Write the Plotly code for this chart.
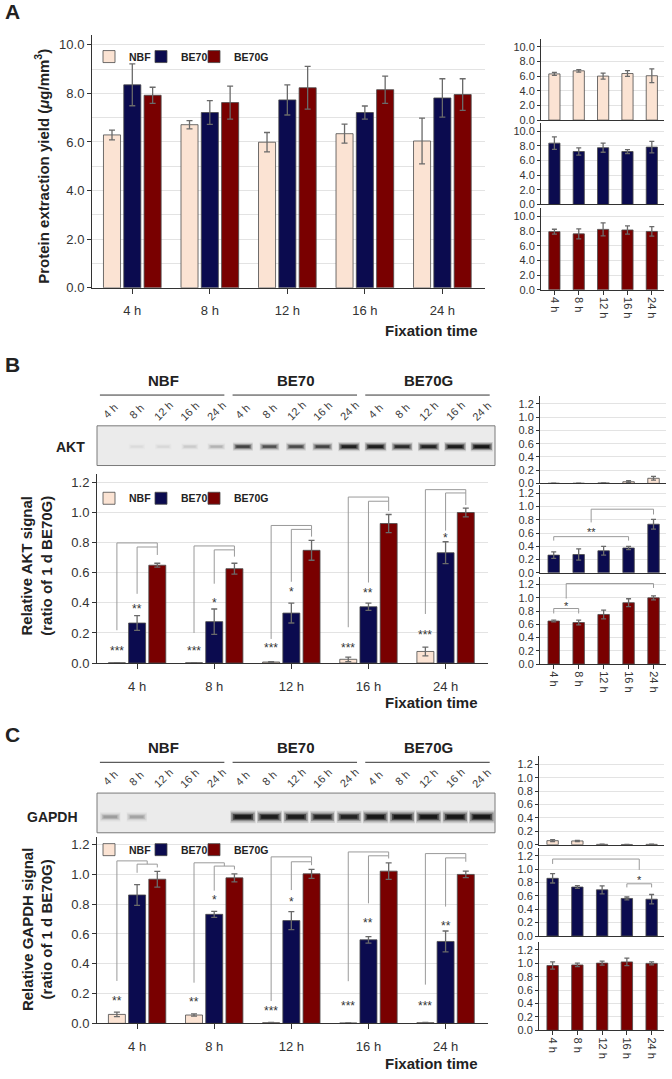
import plotly.graph_objects as go
import numpy as np

W, H = 672, 1079
FONT = "Liberation Sans, Arial, sans-serif"
TXT = "#333333"

# ---------------- data ----------------
categories = ["4 h", "8 h", "12 h", "16 h", "24 h"]
series = ["NBF", "BE70", "BE70G"]
colors = ["#fbe3d3", "#0b0b4f", "#790000"]
lane_labels = categories * 3
group_labels = ["NBF", "BE70", "BE70G"]

# Panel A: protein extraction yield (ug/mm3)
A_NBF = [6.29, 6.71, 5.99, 6.34, 6.04]
A_NBF_err = [0.20, 0.17, 0.40, 0.39, 0.94]
A_BE70 = [8.35, 7.21, 7.73, 7.21, 7.81]
A_BE70_err = [0.86, 0.49, 0.62, 0.27, 0.79]
A_BE70G = [7.92, 7.62, 8.23, 8.15, 7.95]
A_BE70G_err = [0.33, 0.68, 0.88, 0.56, 0.65]

# Panel B: relative AKT signal
B_NBF = [0.002, 0.002, 0.007, 0.025, 0.077]
B_NBF_err = [0.0, 0.0, 0.002, 0.015, 0.029]
B_BE70 = [0.266, 0.275, 0.332, 0.374, 0.733]
B_BE70_err = [0.049, 0.084, 0.066, 0.024, 0.073]
B_BE70G = [0.650, 0.627, 0.749, 0.927, 1.000]
B_BE70G_err = [0.013, 0.036, 0.066, 0.060, 0.029]
AKT_band = [0.0, 0.03, 0.04, 0.08, 0.15, 0.62, 0.55, 0.58, 0.62, 0.90,
            0.92, 0.80, 0.88, 0.95, 1.0]
B_NBF_stars = ["***", "***", "***", "***", "***"]
B_NBF_star_y = [0.10, 0.10, 0.117, 0.117, 0.205]
B_BE70_stars = ["**", "*", "*", "**", "*"]
B_BE70_star_y = [0.376, 0.418, 0.495, 0.484, 0.854]
B_outer_top = [0.798, 0.778, 0.914, 1.103, 1.152]
B_inner_top = [0.771, 0.752, 0.888, 1.075, 1.130]
B_nbf_leg = [0.218, 0.200, 0.160, 0.238, 0.326]
B_be70_leg = [0.460, 0.527, 0.540, 0.535, 0.880]
B_g_leg = [0.718, 0.707, 0.840, 1.010, 1.050]
B_outer_end = ["G", "G", "G", "G", "G"]

# Panel C: relative GAPDH signal
C_NBF = [0.060, 0.056, 0.005, 0.003, 0.005]
C_NBF_err = [0.015, 0.008, 0.002, 0.0, 0.002]
C_BE70 = [0.862, 0.732, 0.690, 0.561, 0.550]
C_BE70_err = [0.070, 0.020, 0.060, 0.022, 0.070]
C_BE70G = [0.968, 0.977, 1.004, 1.022, 1.000]
C_BE70G_err = [0.053, 0.027, 0.030, 0.055, 0.022]
GAPDH_band = [0.22, 0.20, 0.0, 0.0, 0.0, 0.97, 0.93, 0.93, 0.88, 0.88,
              1.0, 1.0, 1.0, 1.0, 1.0]
C_NBF_stars = ["**", "**", "***", "***", "***"]
C_NBF_star_y = [0.171, 0.165, 0.105, 0.138, 0.138]
C_BE70_stars = ["", "*", "*", "**", "**"]
C_BE70_star_y = [0.0, 0.846, 0.835, 0.695, 0.677]
C_outer_top = [1.091, 1.078, 1.118, 1.151, 1.140]
C_inner_top = [1.069, 1.056, 1.085, 1.125, 1.111]
C_nbf_leg = [0.285, 0.273, 0.150, 0.283, 0.260]
C_be70_leg = [1.011, 0.891, 0.895, 0.806, 0.784]
C_g_leg = [1.047, 1.033, 1.062, 1.107, 1.085]
C_outer_end = ["mid", "mid", "G", "G", "G"]

# ---------------- helpers ----------------
def PX(x):
    return x / W


def PY(y):
    return 1 - y / H


layout = {}
traces = []
shapes = []
annotations = []

AX_LINE = "#333333"
GRID = "#e3e3e3"


def ids(n):
    if n == 1:
        return "x", "y", "xaxis", "yaxis"
    return f"x{n}", f"y{n}", f"xaxis{n}", f"yaxis{n}"


def add_axes(n, xpx, ypx, xr, yr, xkw=None, ykw=None):
    xid, yid, xn, yn = ids(n)
    xa = dict(domain=[PX(xpx[0]), PX(xpx[1])], range=xr, anchor=yid,
              showline=True, linecolor=AX_LINE, linewidth=1, ticks="outside",
              ticklen=4, tickcolor=AX_LINE, showgrid=False, zeroline=False,
              tickmode="array", tickvals=list(range(len(categories))),
              ticktext=categories,
              tickfont=dict(size=13, color=TXT, family=FONT), fixedrange=True)
    ya = dict(domain=[PY(ypx[1]), PY(ypx[0])], range=yr, anchor=xid,
              showline=True, linecolor=AX_LINE, linewidth=1, ticks="outside",
              ticklen=4, tickcolor=AX_LINE, showgrid=True, gridcolor=GRID,
              gridwidth=1, zeroline=False, tickformat=".1f",
              tickfont=dict(size=13, color=TXT, family=FONT), fixedrange=True)
    if xkw:
        xa.update(xkw)
    if ykw:
        ya.update(ykw)
    layout[xn] = xa
    layout[yn] = ya
    return xid, yid


OFF = [-0.262, 0.0, 0.262]
BW_MAIN = 0.22
BW_SMALL = 0.46
idx = np.arange(len(categories))
LEGEND_X = [89, 141, 194]      # left edge (px) of each legend entry
legend_counter = [0]


def new_legend(xpx, ypx):
    legend_counter[0] += 1
    k = legend_counter[0]
    name = "legend" if k == 1 else f"legend{k}"
    layout[name] = dict(orientation="h", x=PX(xpx), xanchor="left",
                        y=PY(ypx), yanchor="middle", bgcolor="rgba(0,0,0,0)",
                        itemwidth=30, borderwidth=0,
                        font=dict(size=10.5, color="#222", family=FONT,
                                  weight="bold"))
    return name


def bar(xid, yid, xs, vals, errs, color, name, width, legend=None, ew=3):
    traces.append(go.Bar(
        x=xs, y=vals, width=width, name=name, xaxis=xid, yaxis=yid,
        marker=dict(color=color, line=dict(color="#4a4a4a", width=0.8)),
        error_y=dict(type="data", array=errs, color="#6a6a6a",
                     thickness=1.3, width=ew),
        showlegend=legend is not None, legend=legend or "legend",
        hoverinfo="skip"))


def main_chart(n, xpx, ypx, yr, ykw, data, legend_y):
    xid, yid = add_axes(n, xpx, ypx, [-0.52, 4.55], yr,
                        xkw=dict(ticklen=5, ticklabelstandoff=6), ykw=ykw)
    for k, (vals, errs) in enumerate(data):
        lg = new_legend(LEGEND_X[k], legend_y)
        bar(xid, yid, idx + OFF[k], vals, errs, colors[k], series[k],
            BW_MAIN, legend=lg)
    return xid, yid


def small_charts(n0, xpx, ypx_list, yr, ykw, data, small_font=11):
    out = []
    for k, (vals, errs) in enumerate(data):
        last = k == len(data) - 1
        xkw = dict(showticklabels=last, ticks="outside" if last else "",
                   tickangle=90, tickfont=dict(size=small_font, color=TXT,
                                               family=FONT))
        ykw2 = dict(tickfont=dict(size=small_font, color=TXT, family=FONT),
                    ticklen=3)
        ykw2.update(ykw)
        xid, yid = add_axes(n0 + k, xpx, ypx_list[k], [-0.55, 4.5], yr,
                            xkw=xkw, ykw=ykw2)
        bar(xid, yid, idx, vals, errs, colors[k], series[k], BW_SMALL, ew=2.5)
        out.append((xid, yid))
    return out


BR = dict(color="#9a9a9a", width=1)


def path(xid, yid, d):
    shapes.append(dict(type="path", xref=xid, yref=yid, path=d, line=BR,
                       layer="above"))


def star(xid, yid, x, y, text, size=12):
    if text:
        annotations.append(dict(x=x, y=y, xref=xid, yref=yid, text=text,
                                showarrow=False, yshift=-3, yanchor="middle",
                                xanchor="center",
                                font=dict(size=size, color=TXT, family=FONT)))


def main_brackets(xid, yid, otop, itop, nleg, bleg, gleg, oend):
    for i in range(len(categories)):
        xn, xb, xg = i + OFF[0], i + OFF[1], i + OFF[2]
        xe = xg if oend[i] == "G" else (xb + xg) / 2
        path(xid, yid, f"M {xn},{nleg[i]} V {otop[i]} H {xe} V {itop[i]}")
        path(xid, yid, f"M {xb},{bleg[i]} V {itop[i]} H {xg} V {gleg[i]}")


def blot(n, xpx, ypx, bands, band_y, thick=1.0, spread=1.0):
    xid, yid, xn, yn = ids(n)
    layout[xn] = dict(domain=[PX(xpx[0]), PX(xpx[1])], range=[-0.5, 14.5],
                      anchor=yid, visible=False, fixedrange=True)
    layout[yn] = dict(domain=[PY(ypx[1]), PY(ypx[0])], range=[0, 1],
                      anchor=xid, visible=False, fixedrange=True)
    shapes.append(dict(type="rect", xref=f"{xid} domain", yref=f"{yid} domain",
                       x0=0, x1=1, y0=0, y1=1, fillcolor="#ebebeb",
                       line=dict(color="#7a7a7a", width=1), layer="below"))
    lanes = np.arange(len(bands))
    b = np.asarray(bands, dtype=float)
    layers = [(15.0, 8.5, 0.20), (14.0, 6.0, 0.45), (12.0, 4.0, 0.75),
              (10.0, 2.5, 1.0)]
    for size, lw, alpha in layers:
        cols = [f"rgba(5,5,5,{min(1.0, alpha * v):.3f})" for v in b]
        sizes = size * spread * (0.8 + 0.25 * b)
        widths = lw * thick * (0.75 + 0.35 * b)
        traces.append(go.Scatter(
            x=lanes, y=[band_y] * len(bands), mode="markers",
            xaxis=xid, yaxis=yid, showlegend=False, hoverinfo="skip",
            marker=dict(symbol="line-ew", size=sizes, color=cols,
                        line=dict(width=widths, color=cols))))
    # lane labels
    for j, lab in enumerate(lane_labels):
        annotations.append(dict(x=j, y=1.37, xref=xid, yref=f"{yid} domain",
                                text=lab, textangle=-45, showarrow=False,
                                xanchor="center", yanchor="middle",
                                font=dict(size=11, color="#3a3a3a",
                                          family=FONT)))
    # group labels and lines
    for g, lab in enumerate(group_labels):
        annotations.append(dict(x=5 * g + 2, y=2.15, xref=xid,
                                yref=f"{yid} domain", text=f"<b>{lab}</b>",
                                showarrow=False, xanchor="center",
                                yanchor="middle",
                                font=dict(size=15, color="#222", family=FONT)))
        shapes.append(dict(type="line", xref=xid, yref=f"{yid} domain",
                           x0=5 * g - 0.39, x1=5 * g + 4.3, y0=1.775,
                           y1=1.775, line=dict(color="#333", width=1)))
    return xid, yid


def text(xp, yp, t, size=15, angle=0, xanchor="center", color="#222"):
    annotations.append(dict(x=PX(xp), y=PY(yp), xref="paper", yref="paper",
                            text=t, textangle=angle, showarrow=False,
                            xanchor=xanchor, yanchor="middle",
                            font=dict(size=size, color=color, family=FONT)))


# ---------------- Panel A ----------------
ykwA = dict(dtick=2, minor=dict(dtick=1, showgrid=True, gridcolor=GRID,
                                ticks=""))
main_chart(1, (92, 485), (35, 290), [0, 10.41], ykwA,
           [(A_NBF, A_NBF_err), (A_BE70, A_BE70_err), (A_BE70G, A_BE70G_err)],
           57)
small_charts(2, (541, 664), [(39, 121), (124, 206), (210, 292)], [0, 11.08],
             dict(dtick=2),
             [(A_NBF, A_NBF_err), (A_BE70, A_BE70_err),
              (A_BE70G, A_BE70G_err)])
text(3, 12, "<b>A</b>", size=21, xanchor="left")
text(42, 168, "<b>Protein extraction yield (<i>μ</i>g/mm<sup>3</sup>)</b>",
     angle=-90)
text(480, 333, "<b>Fixation time</b>", xanchor="right")

# ---------------- Panel B ----------------
text(3, 367, "<b>B</b>", size=21, xanchor="left")
blot(5, (97, 495), (429, 469), AKT_band, 0.475, thick=1.0, spread=1.0)
text(70, 450, "<b>AKT</b>", size=14)
bx, by = main_chart(6, (97, 488), (478, 668), [0, 1.253], dict(dtick=0.2),
                    [(B_NBF, B_NBF_err), (B_BE70, B_BE70_err),
                     (B_BE70G, B_BE70G_err)], 502)
main_brackets(bx, by, B_outer_top, B_inner_top, B_nbf_leg, B_be70_leg,
              B_g_leg, B_outer_end)
for i in range(5):
    star(bx, by, i + OFF[0], B_NBF_star_y[i], B_NBF_stars[i])
    star(bx, by, i + OFF[1], B_BE70_star_y[i], B_BE70_stars[i])
text(37, 570, "<b>Relative AKT signal<br>(ratio of 1 d BE70G)</b>", angle=-90)
text(480, 708, "<b>Fixation time</b>", xanchor="right")
bs = small_charts(7, (540, 666), [(399, 487), (489, 577), (581, 669)],
                  [0, 1.32], dict(dtick=0.2),
                  [(B_NBF, B_NBF_err), (B_BE70, B_BE70_err),
                   (B_BE70G, B_BE70G_err)])
mx, my = bs[1]
path(mx, my, "M 0,0.485 V 0.545 H 3 V 0.485")
path(mx, my, "M 1.5,0.76 V 0.96 H 4 V 0.88")
star(mx, my, 1.5, 0.657, "**", size=11)
lx, ly = bs[2]
path(lx, ly, "M 0,0.764 V 0.839 H 1 V 0.764")
path(lx, ly, "M 0.5,0.99 V 1.216 H 4 V 1.15")
star(lx, ly, 0.5, 0.915, "*", size=11)

# ---------------- Panel C ----------------
text(3, 740, "<b>C</b>", size=21, xanchor="left")
blot(10, (97, 495), (799, 839), GAPDH_band, 0.40, thick=1.35, spread=1.15)
text(52, 823, "<b>GAPDH</b>", size=14)
cx, cy = main_chart(11, (97, 488), (843, 1031), [0, 1.253], dict(dtick=0.2),
                    [(C_NBF, C_NBF_err), (C_BE70, C_BE70_err),
                     (C_BE70G, C_BE70G_err)], 856)
main_brackets(cx, cy, C_outer_top, C_inner_top, C_nbf_leg, C_be70_leg,
              C_g_leg, C_outer_end)
for i in range(5):
    star(cx, cy, i + OFF[0], C_NBF_star_y[i], C_NBF_stars[i])
    star(cx, cy, i + OFF[1], C_BE70_star_y[i], C_BE70_stars[i])
text(37, 937, "<b>Relative GAPDH signal<br>(ratio of 1 d BE70G)</b>", angle=-90)
text(480, 1071, "<b>Fixation time</b>", xanchor="right")
cs = small_charts(12, (539, 664), [(762, 851), (854, 943), (949, 1038)],
                  [0, 1.32], dict(dtick=0.2),
                  [(C_NBF, C_NBF_err), (C_BE70, C_BE70_err),
                   (C_BE70G, C_BE70G_err)])
mx, my = cs[1]
path(mx, my, "M 3,0.726 V 0.78 H 4 V 0.726")
path(mx, my, "M 3.5,0.988 V 1.15 H 0 V 1.077")
star(mx, my, 3.5, 0.889, "*", size=11)

layout.update(dict(
    width=W, height=H, margin=dict(l=0, r=0, t=0, b=0),
    paper_bgcolor="white", plot_bgcolor="white", barmode="overlay",
    font=dict(family=FONT, color=TXT),
    shapes=shapes, annotations=annotations,
))

fig = go.Figure(data=traces, layout=layout)
fig.write_html("out.html",
               config={"displayModeBar": False, "staticPlot": True},
               post_script="document.body.style.margin='0px';"
                           "document.body.style.overflow='hidden';")
